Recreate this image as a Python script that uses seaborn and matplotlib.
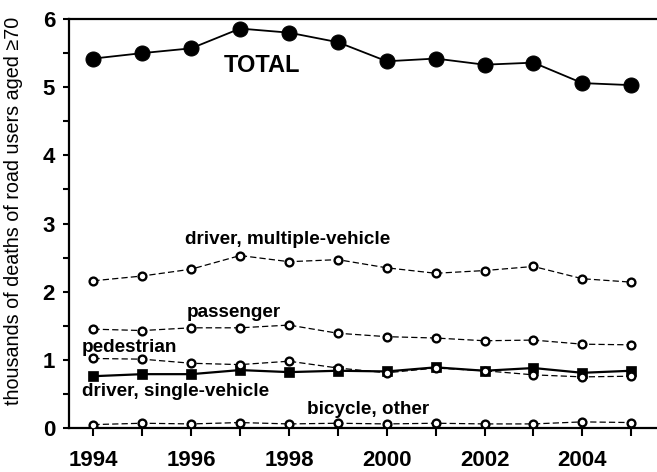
import matplotlib
matplotlib.use("Agg")
import matplotlib.pyplot as plt
import seaborn as sns
import numpy as np
from matplotlib.ticker import MultipleLocator

years = [1994, 1995, 1996, 1997, 1998, 1999, 2000, 2001, 2002, 2003, 2004, 2005]
total = [5.42, 5.50, 5.57, 5.86, 5.80, 5.66, 5.38, 5.42, 5.33, 5.36, 5.06, 5.03]
driver_multi = [2.16, 2.23, 2.33, 2.53, 2.44, 2.47, 2.35, 2.27, 2.31, 2.37, 2.19, 2.14]
passenger = [1.45, 1.43, 1.47, 1.47, 1.51, 1.39, 1.34, 1.32, 1.28, 1.29, 1.23, 1.22]
pedestrian = [1.02, 1.01, 0.95, 0.93, 0.98, 0.88, 0.81, 0.88, 0.84, 0.78, 0.75, 0.76]
driver_single = [0.76, 0.79, 0.79, 0.85, 0.82, 0.84, 0.83, 0.89, 0.84, 0.88, 0.81, 0.84]
bicycle = [0.05, 0.07, 0.06, 0.08, 0.06, 0.07, 0.06, 0.07, 0.06, 0.06, 0.09, 0.08]

sns.set_style("ticks")
plt.rcParams['font.family'] = ['Liberation Sans', 'DejaVu Sans']
plt.rcParams['text.color'] = 'black'
plt.rcParams['axes.labelcolor'] = 'black'
plt.rcParams['xtick.color'] = 'black'
plt.rcParams['ytick.color'] = 'black'

fig = plt.figure(figsize=(6.57, 4.72), dpi=100)
ax = fig.add_axes([0.105, 0.0932, 0.893, 0.8665])

dash = (0, (5, 2.5))
sns.lineplot(x=years, y=total, ax=ax, color='black', linewidth=1.3, marker='o',
             markersize=10.8, markerfacecolor='black', markeredgecolor='black', zorder=3)
sns.lineplot(x=years, y=driver_single, ax=ax, color='black', linewidth=1.6, marker='s',
             markersize=7.6, markerfacecolor='black', markeredgecolor='black',
             markeredgewidth=0.5, zorder=2)
for vals in [driver_multi, passenger, pedestrian, bicycle]:
    sns.lineplot(x=years, y=vals, ax=ax, color='black', linewidth=0.9, linestyle=dash,
                 marker='o', markersize=5.6, markerfacecolor='white',
                 markeredgecolor='black', markeredgewidth=1.7, zorder=4)

ax.set_xlim(1993.5, 2005.5)
ax.set_ylim(0, 6)
ax.xaxis.set_major_locator(MultipleLocator(2))
ax.xaxis.set_minor_locator(MultipleLocator(1))
ax.yaxis.set_major_locator(MultipleLocator(1))
ax.yaxis.set_minor_locator(MultipleLocator(0.5))
ax.tick_params(axis='both', which='both', direction='out', width=1.5, colors='black')
ax.tick_params(axis='x', which='both', length=5.8, pad=10)
ax.tick_params(axis='y', which='both', length=4.5, pad=5.5)
for lab in ax.get_xticklabels() + ax.get_yticklabels():
    lab.set_fontsize(16)
    lab.set_fontweight('bold')

for s in ['left', 'bottom', 'top']:
    ax.spines[s].set_linewidth(1.6)
    ax.spines[s].set_color('black')
ax.spines['right'].set_visible(False)

ax.set_ylabel('thousands of deaths of road users aged \u226570', fontsize=14.2)
ax.yaxis.set_label_coords(-0.078, 0.53)
ax.set_xlabel('')

ax.text(1997.45, 5.32, 'TOTAL', fontsize=17, fontweight='bold', ha='center', va='center')
ax.text(1997.98, 2.76, 'driver, multiple-vehicle', fontsize=13.6, fontweight='bold', ha='center', va='center')
ax.text(1996.87, 1.69, 'passenger', fontsize=13.6, fontweight='bold', ha='center', va='center')
ax.text(1993.77, 1.18, 'pedestrian', fontsize=13.6, fontweight='bold', ha='left', va='center')
ax.text(1993.77, 0.53, 'driver, single-vehicle', fontsize=13.6, fontweight='bold', ha='left', va='center')
ax.text(1999.62, 0.27, 'bicycle, other', fontsize=13.6, fontweight='bold', ha='center', va='center')

fig.savefig('out.png', dpi=100)
